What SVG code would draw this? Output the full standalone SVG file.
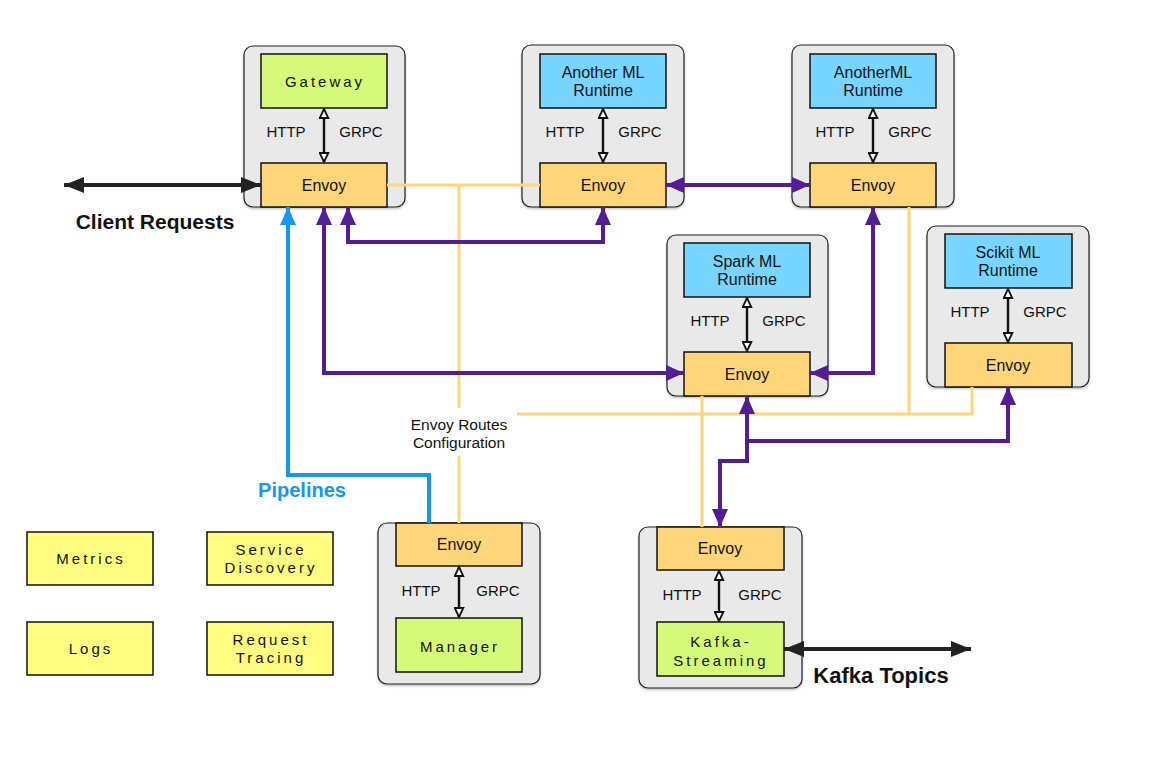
<svg xmlns="http://www.w3.org/2000/svg" width="1161" height="765" viewBox="0 0 1161 765">
<defs>
<style>
text{font-family:"Liberation Sans",Arial,sans-serif;fill:#111;}
.c{fill:#e9e9e9;stroke:#222;stroke-width:1.2;filter:url(#sh);}
.g{fill:#d5fa7a;stroke:#111;stroke-width:1.5;}
.b{fill:#77d5ff;stroke:#111;stroke-width:1.5;}
.e{fill:#ffd57a;stroke:#111;stroke-width:1.5;}
.y{fill:#fefd80;stroke:#111;stroke-width:1.5;}
.t{font-size:15px;text-anchor:middle;}
.n{font-size:16px;text-anchor:middle;}
.s{font-size:15px;text-anchor:middle;letter-spacing:3px;}
.ia{stroke:#111;stroke-width:2.4;fill:none;marker-start:url(#oa);marker-end:url(#oa);}
.p{stroke:#531d94;stroke-width:4;fill:none;}
.o{stroke:#ffd57a;stroke-width:3;fill:none;}
.bl{stroke:#1497f7;stroke-width:4;fill:none;}
.k{stroke:#222;stroke-width:4;fill:none;}
</style>
<filter id="sh" x="-10%" y="-10%" width="120%" height="120%">
<feDropShadow dx="0" dy="1.5" stdDeviation="1.2" flood-color="#000" flood-opacity="0.25"/>
</filter>
<marker id="oa" markerUnits="userSpaceOnUse" viewBox="0 0 11 11" refX="10" refY="5.5" markerWidth="11" markerHeight="11" orient="auto-start-reverse">
<path d="M1,1.2 L10,5.5 L1,9.8 z" fill="#fff" stroke="#111" stroke-width="1.8"/>
</marker>
<marker id="pa" markerUnits="userSpaceOnUse" viewBox="0 0 18 16" refX="18" refY="8" markerWidth="18" markerHeight="16" orient="auto-start-reverse">
<path d="M0,0 L18,8 L0,16 z" fill="#531d94"/>
</marker>
<marker id="ba" markerUnits="userSpaceOnUse" viewBox="0 0 18 16" refX="18" refY="8" markerWidth="18" markerHeight="16" orient="auto-start-reverse">
<path d="M0,0 L18,8 L0,16 z" fill="#1497f7"/>
</marker>
<marker id="ka" markerUnits="userSpaceOnUse" viewBox="0 0 20 16" refX="20" refY="8" markerWidth="20" markerHeight="16" orient="auto-start-reverse">
<path d="M0,0 L20,8 L0,16 z" fill="#222"/>
</marker>
</defs>
<rect width="1161" height="765" fill="#fff"/>

<g id="gateway-node">
<rect class="c" x="244" y="46" width="161" height="161" rx="9"/>
<rect class="g" x="261" y="54" width="126" height="54"/>
<text class="s" x="325" y="87">Gateway</text>
<rect class="e" x="261" y="163" width="126" height="44"/>
<text class="n" x="324" y="191">Envoy</text>
<line class="ia" x1="324" y1="109" x2="324" y2="162"/>
<text class="t" x="286" y="137">HTTP</text>
<text class="t" x="361" y="137">GRPC</text>
</g>

<g id="another-ml-node">
<rect class="c" x="522" y="45" width="162" height="162" rx="9"/>
<rect class="b" x="540" y="54" width="126" height="54"/>
<text class="n" x="603" y="78">Another ML</text>
<text class="n" x="603" y="96">Runtime</text>
<rect class="e" x="540" y="163" width="126" height="44"/>
<text class="n" x="603" y="191">Envoy</text>
<line class="ia" x1="603" y1="109" x2="603" y2="162"/>
<text class="t" x="565" y="137">HTTP</text>
<text class="t" x="640" y="137">GRPC</text>
</g>

<g id="anotherml2-node">
<rect class="c" x="792" y="45" width="162" height="162" rx="9"/>
<rect class="b" x="810" y="54" width="126" height="54"/>
<text class="n" x="873" y="78">AnotherML</text>
<text class="n" x="873" y="96">Runtime</text>
<rect class="e" x="810" y="163" width="126" height="44"/>
<text class="n" x="873" y="191">Envoy</text>
<line class="ia" x1="873" y1="109" x2="873" y2="162"/>
<text class="t" x="835" y="137">HTTP</text>
<text class="t" x="910" y="137">GRPC</text>
</g>

<g id="spark-node">
<rect class="c" x="667" y="235" width="161" height="161" rx="9"/>
<rect class="b" x="684" y="243" width="126" height="54"/>
<text class="n" x="747" y="267">Spark ML</text>
<text class="n" x="747" y="285">Runtime</text>
<rect class="e" x="684" y="352" width="126" height="44"/>
<text class="n" x="747" y="380">Envoy</text>
<line class="ia" x1="747" y1="298" x2="747" y2="351"/>
<text class="t" x="710" y="326">HTTP</text>
<text class="t" x="784" y="326">GRPC</text>
</g>

<g id="scikit-node">
<rect class="c" x="927" y="226" width="162" height="161" rx="9"/>
<rect class="b" x="945" y="234" width="127" height="54"/>
<text class="n" x="1008" y="258">Scikit ML</text>
<text class="n" x="1008" y="276">Runtime</text>
<rect class="e" x="945" y="343" width="127" height="44"/>
<text class="n" x="1008" y="371">Envoy</text>
<line class="ia" x1="1008" y1="289" x2="1008" y2="342"/>
<text class="t" x="970" y="317">HTTP</text>
<text class="t" x="1045" y="317">GRPC</text>
</g>

<g id="manager-node">
<rect class="c" x="378" y="523" width="162" height="161" rx="9"/>
<rect class="e" x="396" y="523" width="126" height="43"/>
<text class="n" x="459" y="550">Envoy</text>
<rect class="g" x="396" y="618" width="126" height="54"/>
<text class="s" x="460" y="652">Manager</text>
<line class="ia" x1="459" y1="567" x2="459" y2="617"/>
<text class="t" x="421" y="596">HTTP</text>
<text class="t" x="498" y="596">GRPC</text>
</g>

<g id="kafka-node">
<rect class="c" x="639" y="527" width="163" height="161" rx="9"/>
<rect class="e" x="657" y="527" width="127" height="43"/>
<text class="n" x="720" y="554">Envoy</text>
<rect class="g" x="657" y="622" width="127" height="54"/>
<text class="s" x="721" y="647">Kafka-</text>
<text class="s" x="721" y="666">Streaming</text>
<line class="ia" x1="719" y1="571" x2="719" y2="621"/>
<text class="t" x="682" y="600">HTTP</text>
<text class="t" x="760" y="600">GRPC</text>
</g>

<g id="metrics-node"><rect class="y" x="27" y="532" width="126" height="53"/><text class="s" x="91" y="564">Metrics</text></g>
<g id="service-discovery-node"><rect class="y" x="207" y="532" width="126" height="53"/><text class="s" x="271" y="555">Service</text><text class="s" x="271" y="573">Discovery</text></g>
<g id="logs-node"><rect class="y" x="27" y="622" width="126" height="53"/><text class="s" x="91" y="654">Logs</text></g>
<g id="request-tracing-node"><rect class="y" x="207" y="622" width="126" height="53"/><text class="s" x="271" y="645">Request</text><text class="s" x="271" y="663">Tracing</text></g>

<g id="connectors">
<polyline class="o" points="387,185 540,185"/>
<polyline class="o" points="459,185 459,408"/>
<polyline class="o" points="459,456 459,523"/>
<polyline class="o" points="517,414 972,414 972,387"/>
<polyline class="o" points="909,207 909,414"/>
<polyline class="o" points="702,396 702,527"/>
<polyline class="p" points="666,185 810,185" marker-start="url(#pa)" marker-end="url(#pa)"/>
<polyline class="p" points="348,207 348,242 603,242 603,207" marker-start="url(#pa)" marker-end="url(#pa)"/>
<polyline class="p" points="324,207 324,373 684,373" marker-start="url(#pa)" marker-end="url(#pa)"/>
<polyline class="p" points="810,373 873,373 873,207" marker-start="url(#pa)" marker-end="url(#pa)"/>
<polyline class="p" points="747,396 747,461 720,461 720,527" marker-start="url(#pa)" marker-end="url(#pa)"/>
<polyline class="p" points="747,441 1008,441 1008,387" marker-end="url(#pa)"/>
<polyline class="bl" points="429,523 429,475 288,475 288,207" marker-end="url(#ba)"/>
<line class="k" x1="64" y1="185" x2="261" y2="185" marker-start="url(#ka)" marker-end="url(#ka)"/>
<line class="k" x1="784" y1="649" x2="971" y2="649" marker-start="url(#ka)" marker-end="url(#ka)"/>
<text x="155" y="229" style="font-size:21px;font-weight:bold;text-anchor:middle;">Client Requests</text>
<text x="302" y="497" style="font-size:20px;font-weight:bold;text-anchor:middle;fill:#1497f7;">Pipelines</text>
<text x="881" y="683" style="font-size:22px;font-weight:bold;text-anchor:middle;">Kafka Topics</text>
<text x="459" y="430" style="font-size:15.5px;text-anchor:middle;">Envoy Routes</text>
<text x="459" y="448" style="font-size:15.5px;text-anchor:middle;">Configuration</text>
</g>
</svg>
